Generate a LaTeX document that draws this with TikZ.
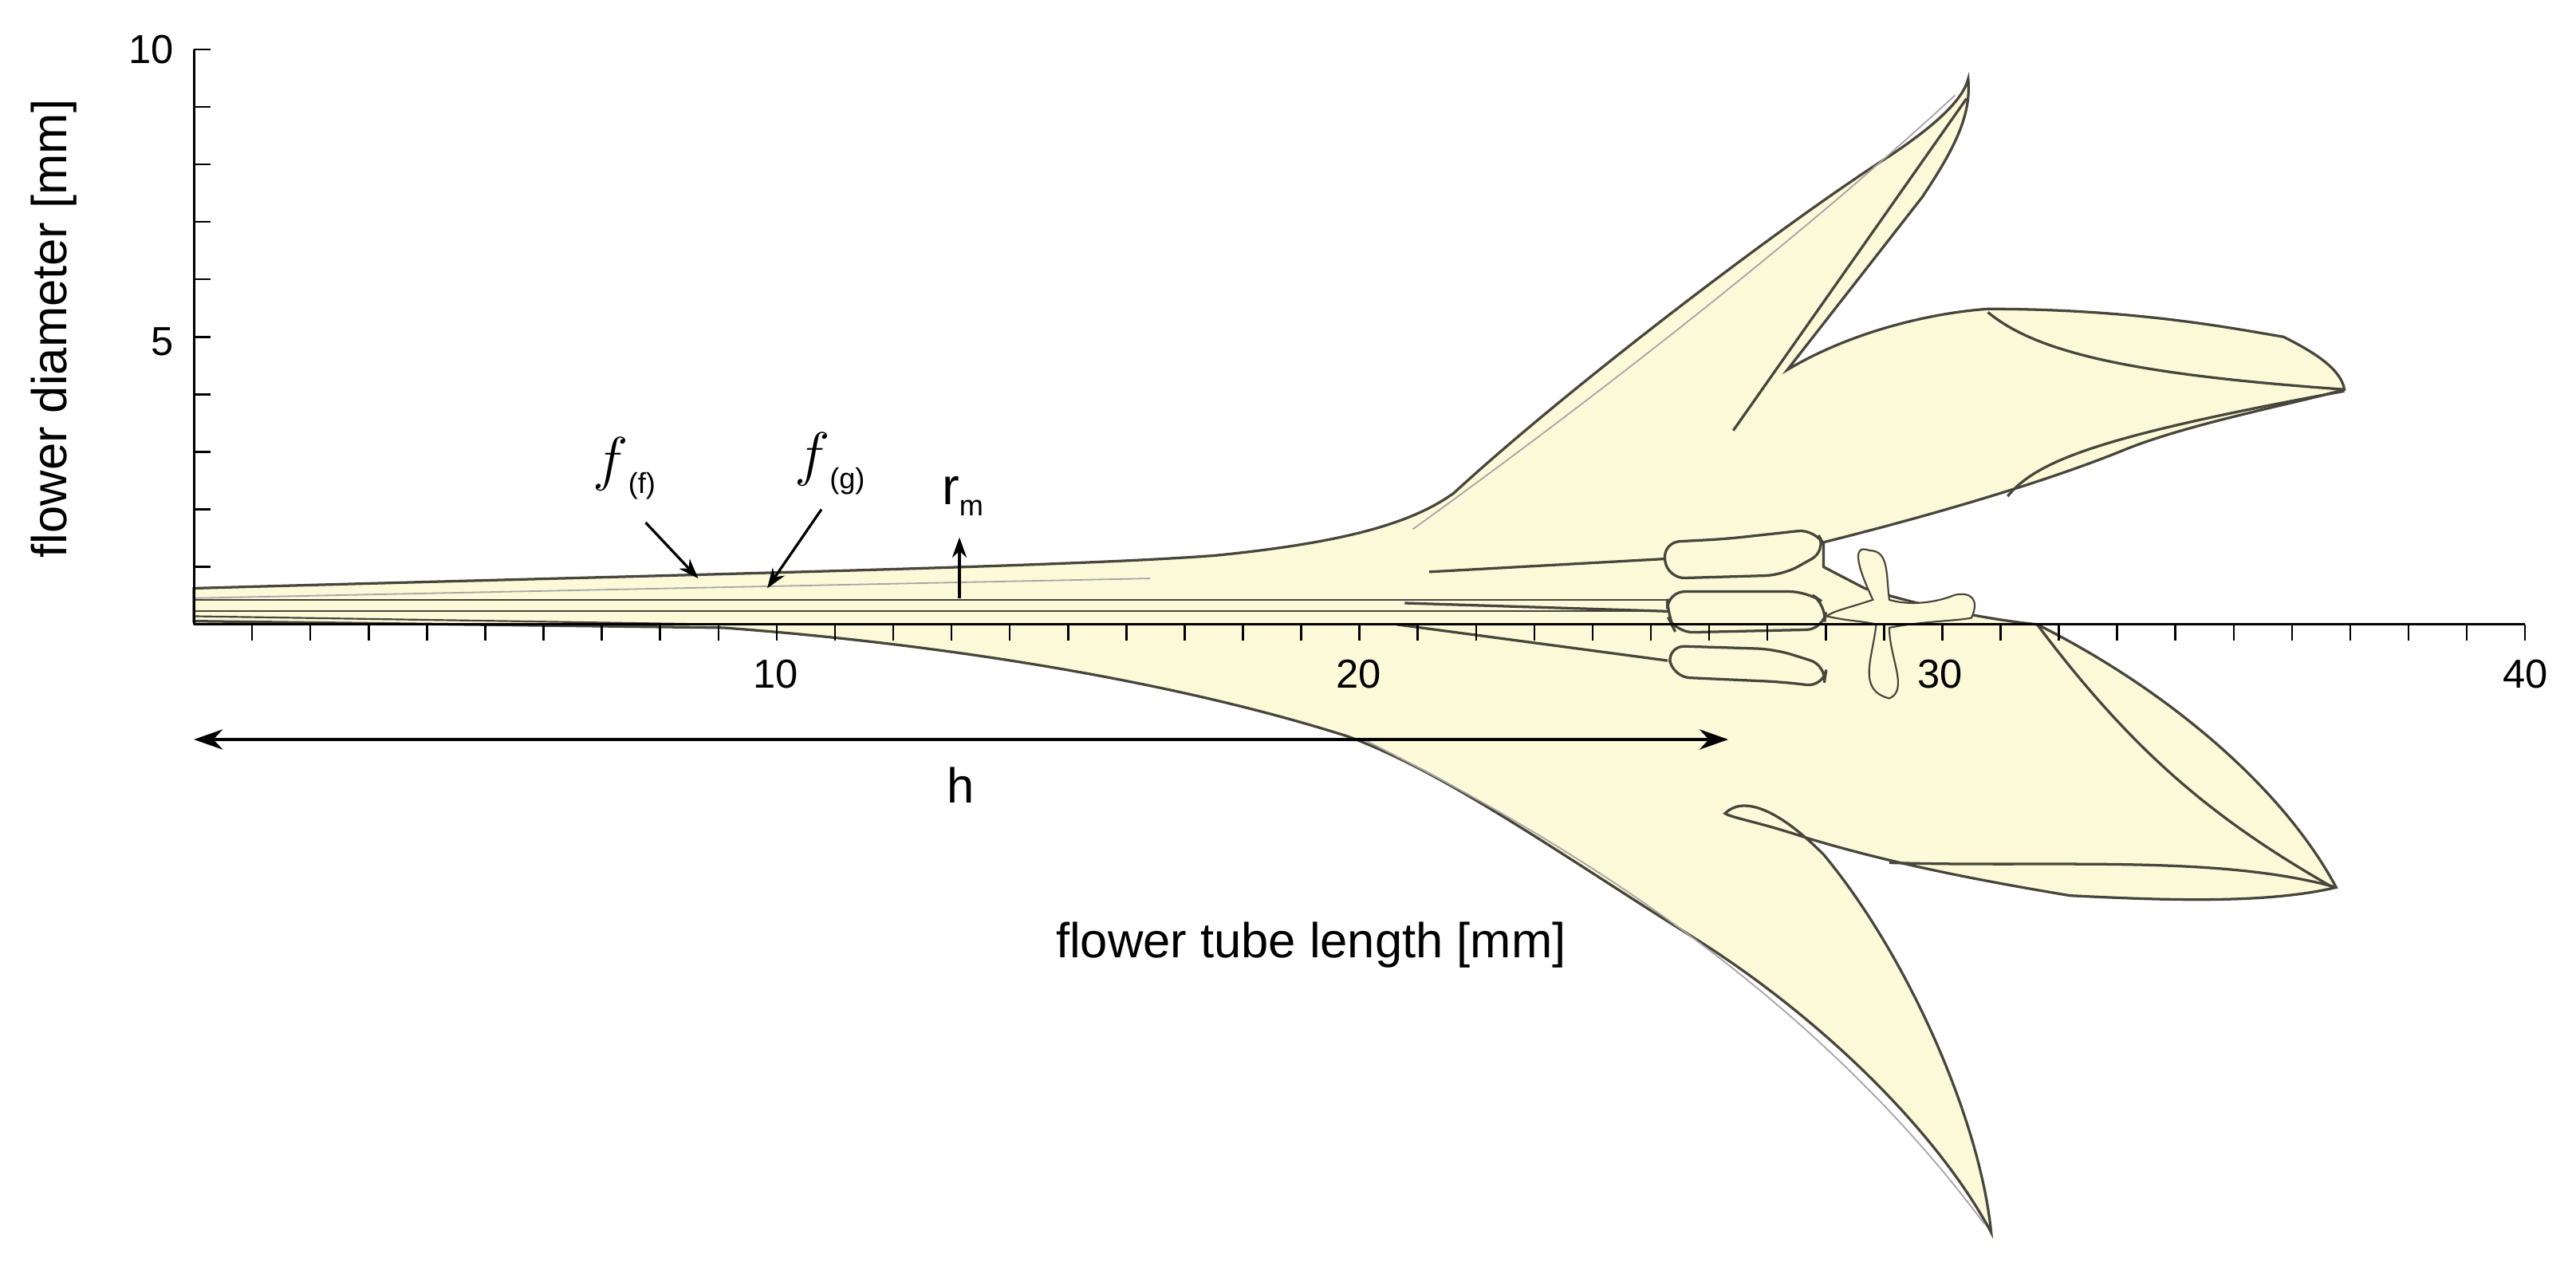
\documentclass[tikz,border=0pt]{standalone}
\usepackage{fontspec}
\setmainfont{Liberation Sans}
\usetikzlibrary{arrows.meta}
\definecolor{petal}{RGB}{252,249,217}
\definecolor{edge}{RGB}{70,70,60}
\begin{document}
\begin{tikzpicture}[x=0.02cm,y=-0.02cm,
  outl/.style={draw=edge,line width=0.9pt},
  vein/.style={draw=gray!70,line width=0.5pt},
  tick/.style={line width=0.7pt},
  lab/.style={font=\fontsize{14}{16}\selectfont,inner sep=0pt},
  big/.style={font=\fontsize{17}{20}\selectfont,inner sep=0pt},
  arr/.style={-{Stealth[length=7pt,width=5pt]},line width=0.9pt}]
\useasboundingbox (0,0) rectangle (1568,770);
% flower body
\path[outl,fill=petal] (118,358) .. controls (400,350) and (650,345) .. (740,338)
  .. controls (820,330) and (860,318) .. (885,300)
  .. controls (950,240) and (1080,140) .. (1150,95)
  .. controls (1180,75) and (1195,60) .. (1198,48)
  .. controls (1200,70) and (1190,90) .. (1170,120)
  -- (1088,225)
  .. controls (1130,200) and (1180,190) .. (1210,188)
  .. controls (1300,188) and (1360,200) .. (1390,205)
  .. controls (1410,215) and (1425,225) .. (1427,237)
  .. controls (1400,245) and (1330,258) .. (1290,275)
  .. controls (1240,295) and (1170,315) .. (1110,330)
  -- (1110,345) -- (1135,358) .. controls (1180,372) and (1220,378) .. (1240,380)
  .. controls (1320,420) and (1390,480) .. (1422,540)
  .. controls (1380,550) and (1320,548) .. (1260,545)
  .. controls (1200,535) and (1150,525) .. (1100,510)
  .. controls (1070,500) and (1055,498) .. (1050,495)
  .. controls (1060,485) and (1080,490) .. (1110,520)
  .. controls (1160,580) and (1205,680) .. (1212,750)
  .. controls (1180,690) and (1110,620) .. (1030,570)
  .. controls (950,520) and (880,470) .. (820,448)
  .. controls (700,410) and (550,390) .. (440,382)
  -- (118,378) -- cycle;
% inner petal edge lines
\draw[outl] (1197,60) -- (1055,262);
\draw[outl] (1210,190) .. controls (1240,215) and (1300,228) .. (1427,237);
\draw[outl] (1222,302) .. controls (1240,280) and (1280,265) .. (1427,238);
\draw[outl] (1240,380) .. controls (1300,460) and (1350,500) .. (1420,540);
\draw[outl] (1150,525) .. controls (1250,528) and (1350,520) .. (1422,540);
% veins
\draw[vein] (860,322) .. controls (960,250) and (1090,150) .. (1190,58);
\draw[vein] (830,450) .. controls (950,510) and (1100,600) .. (1208,745);
\draw[vein] (118,364) -- (700,352);
% tube lines
\draw[outl,line width=0.6pt] (118,365) -- (1020,365);
\draw[outl,line width=0.6pt] (118,372) -- (1020,372);
\draw[outl,line width=0.6pt] (118,375) -- (440,380);
% filaments
\draw[outl] (870,348) -- (1015,340);
\draw[outl] (855,367) -- (1015,372);
\draw[outl] (850,380) -- (1015,402);
% anthers
\draw[outl,fill=petal,rounded corners=6pt] (1012,330) -- (1050,328) -- (1105,322) -- (1112,335) -- (1085,350) -- (1015,352) -- cycle;
\draw[outl,fill=petal,rounded corners=6pt] (1015,360) -- (1100,360) -- (1112,368) -- (1110,383) -- (1020,385) -- (1015,375) -- cycle;
\draw[outl,fill=petal,rounded corners=6pt] (1015,393) -- (1080,395) -- (1112,405) -- (1110,418) -- (1085,415) -- (1018,412) -- cycle;
% stigma
\draw[outl,line width=0.6pt,fill=petal] (1138,335) .. controls (1125,330) and (1133,350) .. (1140,365)
  .. controls (1125,370) and (1115,372) .. (1112,375)
  .. controls (1125,378) and (1135,378) .. (1142,380)
  .. controls (1140,400) and (1130,420) .. (1150,425)
  .. controls (1162,420) and (1150,400) .. (1150,382)
  .. controls (1170,378) and (1190,378) .. (1200,376)
  .. controls (1205,365) and (1200,360) .. (1190,362)
  .. controls (1175,368) and (1160,368) .. (1150,365)
  .. controls (1148,350) and (1150,335) .. (1138,335);
% axes
\draw[line width=0.8pt] (118,380) -- (1537,380);
\draw[line width=0.8pt] (118,380) -- (118,30);
\foreach \i in {1,...,40} \draw[tick] ({118+35.475*\i},380) -- ({118+35.475*\i},390);
\foreach \i in {1,...,10} \draw[tick] (118,{380-35*\i}) -- (128,{380-35*\i});
\node[lab] (x10) at (472,410) {10};
\node[lab] (x20) at (827,410) {20};
\node[lab] (x30) at (1181,410) {30};
\node[lab] (x40) at (1537,410) {40};
\node[lab,anchor=east] (y10) at (106,30) {10};
\node[lab,anchor=east] (y5) at (106,208) {5};
\node[big,rotate=90] (ylab) at (33,200) {flower diameter [mm]};
\node[big] (xlab) at (798,575) {flower tube length [mm]};
% annotations
\node[inner sep=0pt] (ff) at (380,285) {\fontsize{22}{24}\selectfont$f$\raisebox{-5pt}{\fontsize{10}{12}\selectfont(f)}};
\node[inner sep=0pt] (fg) at (505,282) {\fontsize{22}{24}\selectfont$f$\raisebox{-5pt}{\fontsize{10}{12}\selectfont(g)}};
\node[inner sep=0pt] (rm) at (586,302) {\fontsize{18}{20}\selectfont r\raisebox{-4pt}{\fontsize{10}{12}\selectfont m}};
\coordinate (pf) at (425,352);
\coordinate (pg) at (467,358);
\coordinate (pr0) at (584,364);
\coordinate (pr1) at (584,327);
\draw[arr] (393,318) -- (pf);
\draw[arr] (500,310) -- (pg);
\draw[arr] (pr0) -- (pr1);
\coordinate (h0) at (118,450);
\coordinate (h1) at (1052,450);
\draw[{Stealth[length=10pt,width=7pt]}-{Stealth[length=10pt,width=7pt]},line width=0.9pt] (h0) -- (h1);
\node[big] (h) at (585,478) {h};
\end{tikzpicture}
\end{document}
